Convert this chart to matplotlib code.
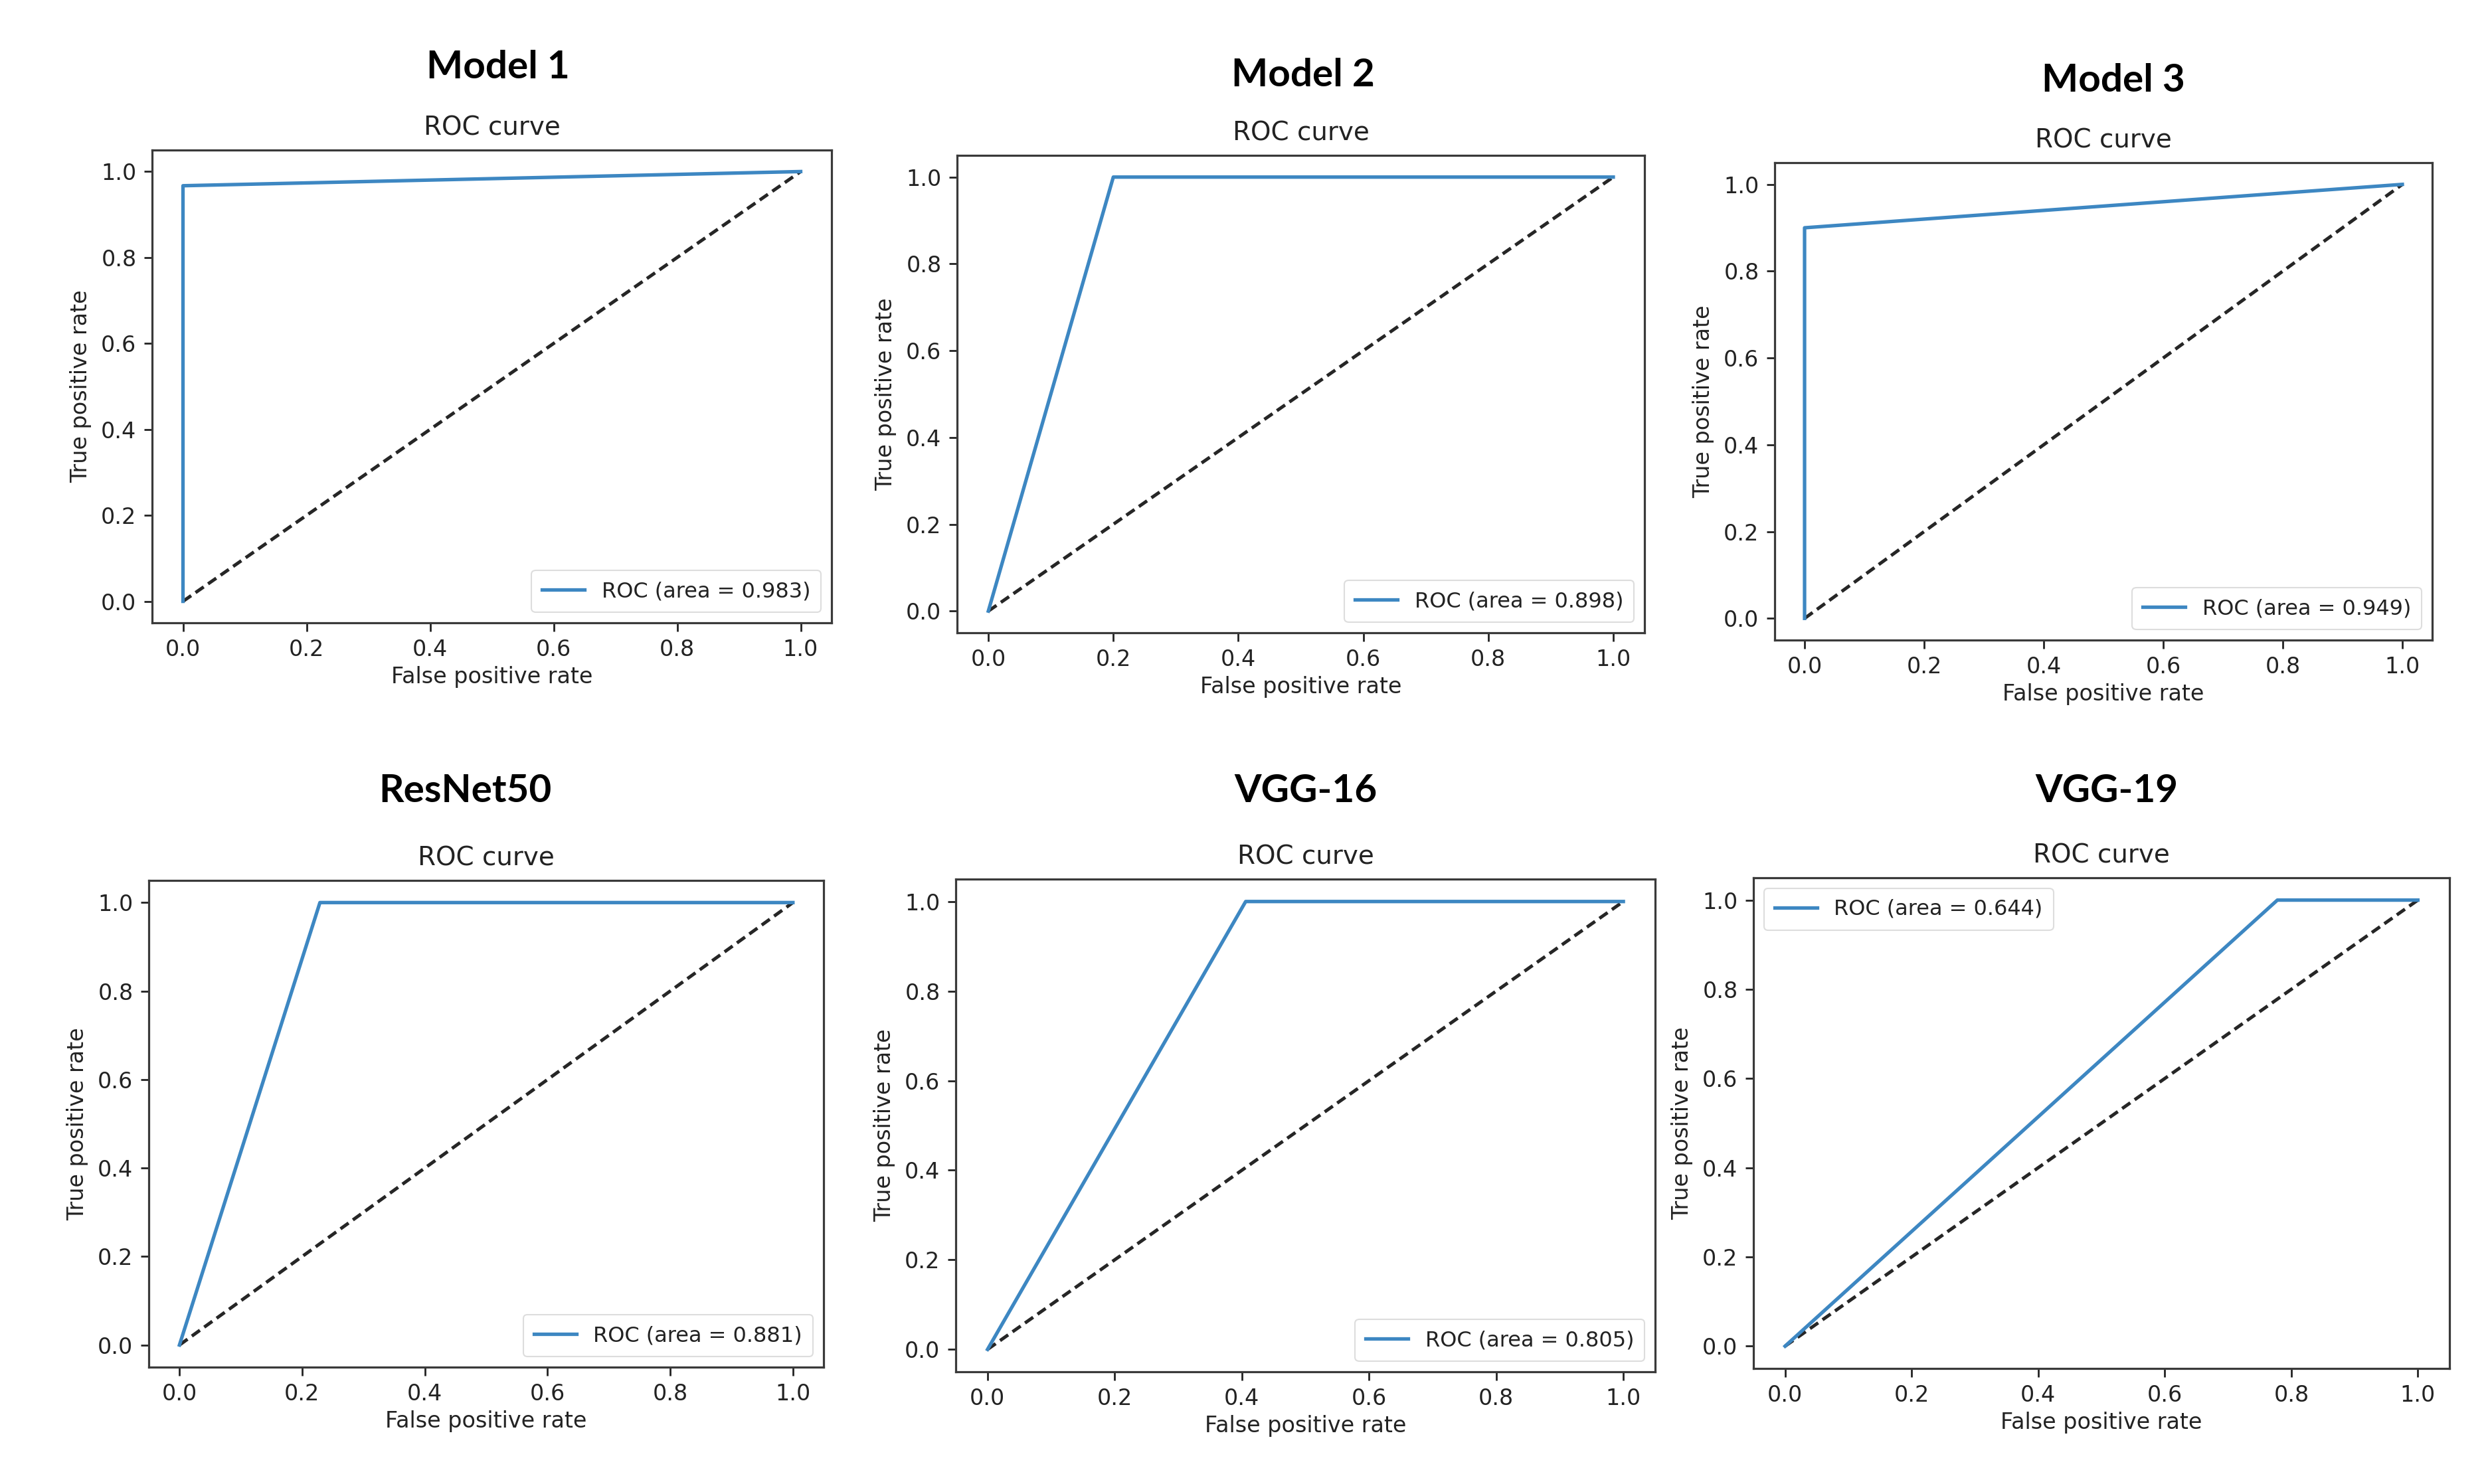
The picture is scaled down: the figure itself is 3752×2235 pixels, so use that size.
import matplotlib
matplotlib.use("Agg")
import matplotlib.pyplot as plt

model_names = ["Model 1", "Model 2", "Model 3", "ResNet50", "VGG-16", "VGG-19"]
fpr_values = [
    [0.0, 0.0, 1.0],
    [0.0, 0.2, 1.0],
    [0.0, 0.0, 1.0],
    [0.0, 0.229, 1.0],
    [0.0, 0.406, 1.0],
    [0.0, 0.778, 1.0],
]
tpr_values = [
    [0.0, 0.967, 1.0],
    [0.0, 1.0, 1.0],
    [0.0, 0.9, 1.0],
    [0.0, 1.0, 1.0],
    [0.0, 1.0, 1.0],
    [0.0, 1.0, 1.0],
]
auc_values = [0.983, 0.898, 0.949, 0.881, 0.805, 0.644]
legend_locs = ["lower right"] * 5 + ["upper left"]
tick_vals = [0.0, 0.2, 0.4, 0.6, 0.8, 1.0]
tick_labels = ["0.0", "0.2", "0.4", "0.6", "0.8", "1.0"]

W, H = 3752, 2235
fig = plt.figure(figsize=(W / 100, H / 100), dpi=100)

# axes rectangles in pixels: left, right, top, bottom
rects_px = [
    (229, 1252, 226, 938),
    (1441, 2476, 234, 953),
    (2672, 3662, 245, 964),
    (224, 1240, 1326, 2059),
    (1439, 2492, 1324, 2066),
    (2640, 3688, 1322, 2061),
]
title_px = [(750, 102), (1962, 113), (3182, 121), (700, 1192), (1966, 1192), (3172, 1191)]

txt = "#222222"
for i, name in enumerate(model_names):
    l, r, t, b = rects_px[i]
    ax = fig.add_axes([l / W, 1 - b / H, (r - l) / W, (b - t) / H])
    ax.plot([0, 1], [0, 1], color="#262626", linestyle="--", linewidth=3.6,
            dashes=(3.0, 1.6))
    ax.plot(fpr_values[i], tpr_values[i], color="#3d87c2", linewidth=3.8,
            label=f"ROC (area = {auc_values[i]:.3f})")
    ax.set_xticks(tick_vals)
    ax.set_xticklabels(tick_labels)
    ax.set_yticks(tick_vals)
    ax.set_yticklabels(tick_labels)
    ax.tick_params(labelsize=24, length=9, width=2, colors=txt, pad=8)
    for s in ax.spines.values():
        s.set_linewidth(2.3)
        s.set_color("#3a3a3a")
    ax.set_xlabel("False positive rate", fontsize=24, color=txt, labelpad=6)
    ax.set_ylabel("True positive rate", fontsize=24, color=txt, labelpad=10)
    ax.set_title("ROC curve", fontsize=28, color=txt, pad=16)
    leg = ax.legend(loc=legend_locs[i], fontsize=23, handlelength=2.0,
                    borderpad=0.5, framealpha=1.0, fancybox=True)
    leg.get_frame().set_linewidth(1.5)
    leg.get_frame().set_edgecolor("#dddddd")
    for t_ in leg.get_texts():
        t_.set_color(txt)
    tx, ty = title_px[i]
    fig.text(tx / W, 1 - ty / H, name, fontsize=42, fontweight="bold",
             family=["Lato", "DejaVu Sans"], ha="center", va="center", color="black")

fig.savefig("out.png", dpi=100, facecolor="white")
